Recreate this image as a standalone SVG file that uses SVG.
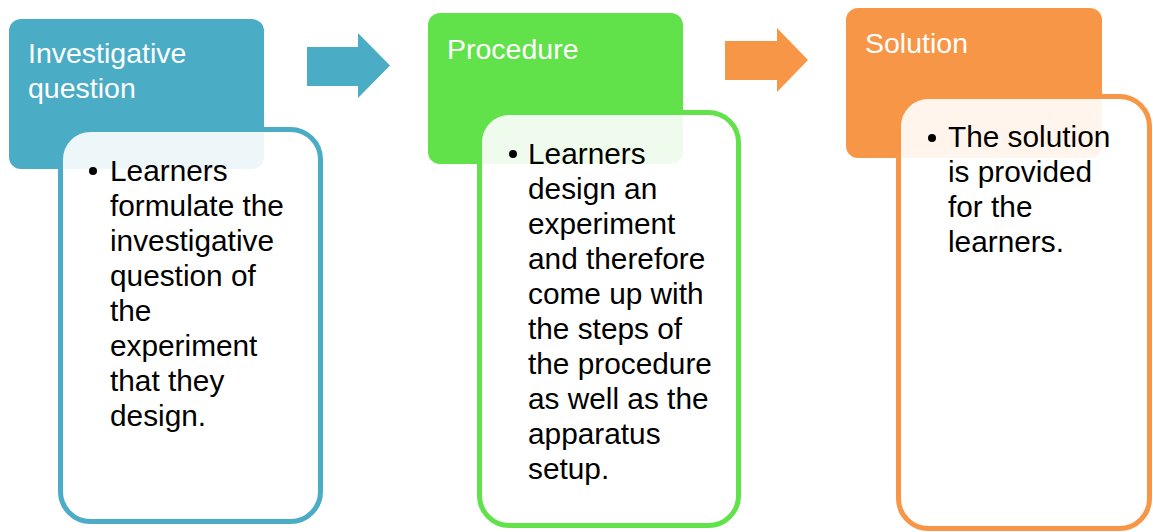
<svg xmlns="http://www.w3.org/2000/svg" width="1153" height="532" viewBox="0 0 1153 532">
<style>
.hdr{font-family:"Liberation Sans",Arial,sans-serif;font-size:28.5px;fill:#ffffff}
.body{font-family:"Liberation Sans",Arial,sans-serif;font-size:29.8px;fill:#000000}
.box{fill:#ffffff;fill-opacity:0.9;stroke-width:5}
</style>
<rect width="1153" height="532" fill="#ffffff"/>
<g id="connectors">
<polygon points="307,47 358,47 358,33 390,65.5 358,98 358,86 307,86" fill="#4BACC6"/>
<polygon points="725,41 777,41 777,28 808,60 777,92 777,80 725,80" fill="#F79646"/>
</g>
<g id="node-investigative">
<rect x="9" y="19" width="255" height="150" rx="12" fill="#4BACC6"/>
<text class="hdr" x="28" y="63">Investigative</text>
<text class="hdr" x="28" y="98">question</text>
<rect class="box" x="60.5" y="129.5" width="260" height="392" rx="30" stroke="#4BACC6"/>
<circle cx="93" cy="171" r="4"/>
<text class="body" x="110" y="181">Learners</text>
<text class="body" x="110" y="216">formulate the</text>
<text class="body" x="110" y="251">investigative</text>
<text class="body" x="110" y="286">question of</text>
<text class="body" x="110" y="321">the</text>
<text class="body" x="110" y="356">experiment</text>
<text class="body" x="110" y="391">that they</text>
<text class="body" x="110" y="426">design.</text>
</g>
<g id="node-procedure">
<rect x="428" y="13" width="255" height="151" rx="12" fill="#62E24A"/>
<text class="hdr" x="447" y="59">Procedure</text>
<rect class="box" x="479.5" y="112.5" width="259" height="413" rx="30" stroke="#62E24A"/>
<circle cx="513" cy="154" r="4"/>
<text class="body" x="528" y="164">Learners</text>
<text class="body" x="528" y="199">design an</text>
<text class="body" x="528" y="234">experiment</text>
<text class="body" x="528" y="269">and therefore</text>
<text class="body" x="528" y="304">come up with</text>
<text class="body" x="528" y="339">the steps of</text>
<text class="body" x="528" y="374">the procedure</text>
<text class="body" x="528" y="409">as well as the</text>
<text class="body" x="528" y="444">apparatus</text>
<text class="body" x="528" y="479">setup.</text>
</g>
<g id="node-solution">
<rect x="846" y="8" width="256" height="150" rx="12" fill="#F79646"/>
<text class="hdr" x="865" y="53">Solution</text>
<rect class="box" x="898.5" y="96.5" width="251" height="432" rx="30" stroke="#F79646"/>
<circle cx="932" cy="138" r="4"/>
<text class="body" x="948" y="147">The solution</text>
<text class="body" x="948" y="182">is provided</text>
<text class="body" x="948" y="217">for the</text>
<text class="body" x="948" y="252">learners.</text>
</g>
</svg>
